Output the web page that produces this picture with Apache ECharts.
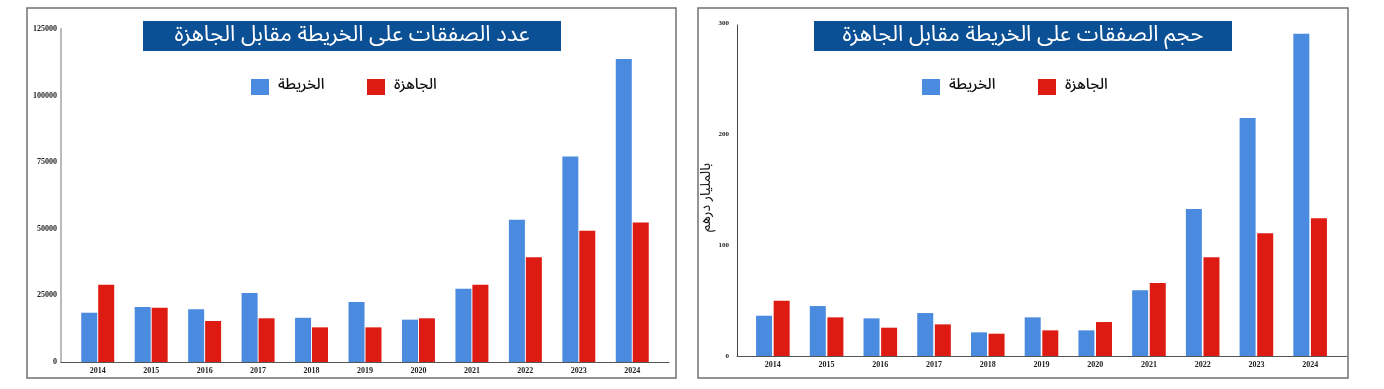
<!DOCTYPE html>
<html>
<head>
<meta charset="utf-8">
<script src="https://cdn.jsdelivr.net/npm/echarts@6/dist/echarts.min.js"></script>
<style>
html,body{margin:0;padding:0;background:#fff;}
#c{width:1384px;height:389px;}
</style>
</head>
<body>
<div id="c"></div>
<script>
// ---- data ----
const years = ['2014','2015','2016','2017','2018','2019','2020','2021','2022','2023','2024'];
const countMap   = [18500, 20600, 19800, 25900, 16600, 22500, 15900, 27500, 53400, 77100, 113700];
const countReady = [29000, 20400, 15400, 16400, 13000, 13000, 16400, 29000, 39300, 49300, 52400];
const valueMap   = [36.3, 45.0, 33.9, 38.7, 21.3, 34.8, 23.1, 59.2, 132.4, 214.4, 290.4];
const valueReady = [49.8, 34.8, 25.5, 28.5, 20.1, 23.1, 30.6, 65.8, 88.9, 110.5, 124.0];
const countTicks = [0, 25000, 50000, 75000, 100000, 125000];
const valueTicks = [0, 100, 200, 300];
const nameMap = 'الخريطة';
const nameReady = 'الجاهزة';
const titleLeft = 'عدد الصفقات على الخريطة مقابل الجاهزة';
const titleRight = 'حجم الصفقات على الخريطة مقابل الجاهزة';
const yNameRight = 'بالمليار درهم';

// ---- style ----
const BLUE = '#4a8bdf', RED = '#de1b12', NAVY = '#0b4f94';
const AR = "'Noto Sans Arabic','DejaVu Sans',sans-serif";
const SERIF = "'Liberation Serif','DejaVu Serif',serif";

const chart = echarts.init(document.getElementById('c'), null, {renderer:'canvas'});

function dataY(gridIndex, ticks, margin, fontSize, extra) {
  return Object.assign({
    type:'value', gridIndex, min:ticks[0], max:ticks[ticks.length-1], interval:ticks[1]-ticks[0],
    axisLine:{show:false}, axisTick:{show:false}, splitLine:{show:false},
    axisLabel:{margin, fontFamily:SERIF, fontWeight:'bold', fontSize, color:'#222',
      formatter:(v)=>String(v)}
  }, extra || {});
}
function dataX(gridIndex, margin) {
  return {
    type:'category', gridIndex, data:years,
    axisLine:{show:false}, axisTick:{show:false},
    axisLabel:{margin, fontFamily:SERIF, fontWeight:'bold', fontSize:8, color:'#222'}
  };
}
function lineAxes(gridIndex, yColor, yWidth) {
  return {
    x:{type:'value', gridIndex, min:0, max:1, axisLine:{show:true, lineStyle:{color:'#555', width:1}},
       axisTick:{show:false}, axisLabel:{show:false}, splitLine:{show:false}},
    y:{type:'value', gridIndex, min:0, max:1, axisLine:{show:true, lineStyle:{color:yColor, width:yWidth}},
       axisTick:{show:false}, axisLabel:{show:false}, splitLine:{show:false}}
  };
}
const la2 = lineAxes(2, '#bbbbbb', 2);
const la3 = lineAxes(3, '#444', 1);

function legend(name, left) {
  return {
    data:[name], left, top:74, itemWidth:18, itemHeight:16, icon:'rect',
    textStyle:{fontFamily:AR, fontSize:15, fontWeight:500, color:'#111', padding:[0,0,0,4]}
  };
}

function titleBox(x1, x2, text) {
  return {
    type:'group', children:[
      {type:'rect', shape:{x:x1, y:21, width:x2-x1, height:30}, style:{fill:NAVY}},
      {type:'text', x:(x1+x2)/2, y:38, style:{text, fill:'#fff', font:'22px ' + AR, align:'center', verticalAlign:'middle'}}
    ]
  };
}

const option = {
  backgroundColor:'#fff',
  animation:false,
  grid:[
    {left:71, top:29, width:588, height:333},
    {left:746, top:23, width:591, height:333},
    {left:61, top:29, width:608, height:333},
    {left:737, top:25, width:610, height:331}
  ],
  xAxis:[dataX(0,5), dataX(1,5), la2.x, la3.x],
  yAxis:[
    dataY(0, countTicks, 14, 8),
    dataY(1, valueTicks, 17, 7, {name:yNameRight, nameLocation:'middle', nameGap:23,
      nameTextStyle:{fontFamily:AR, fontSize:14, color:'#111', padding:[0,16,0,0]}}),
    la2.y, la3.y
  ],
  legend:[
    legend(nameMap, 246), legend(nameReady, 362),
    legend(nameMap, 917), legend(nameReady, 1033)
  ],
  series:[
    {name:nameMap, type:'bar', xAxisIndex:0, yAxisIndex:0, data:countMap, barWidth:16, barGap:'6%', itemStyle:{color:BLUE}},
    {name:nameReady, type:'bar', xAxisIndex:0, yAxisIndex:0, data:countReady, barWidth:16, barGap:'6%', itemStyle:{color:RED}},
    {name:nameMap, type:'bar', xAxisIndex:1, yAxisIndex:1, data:valueMap, barWidth:16, barGap:'10%', itemStyle:{color:BLUE}},
    {name:nameReady, type:'bar', xAxisIndex:1, yAxisIndex:1, data:valueReady, barWidth:16, barGap:'10%', itemStyle:{color:RED}}
  ],
  graphic:[
    {type:'rect', shape:{x:27, y:8, width:649, height:370}, style:{fill:'none', stroke:'#707070', lineWidth:1.5}, z:-1},
    {type:'rect', shape:{x:698, y:8, width:650, height:370}, style:{fill:'none', stroke:'#707070', lineWidth:1.5}, z:-1},
    titleBox(143, 561, titleLeft),
    titleBox(814, 1232, titleRight)
  ]
};
chart.setOption(option);
</script>
</body>
</html>
